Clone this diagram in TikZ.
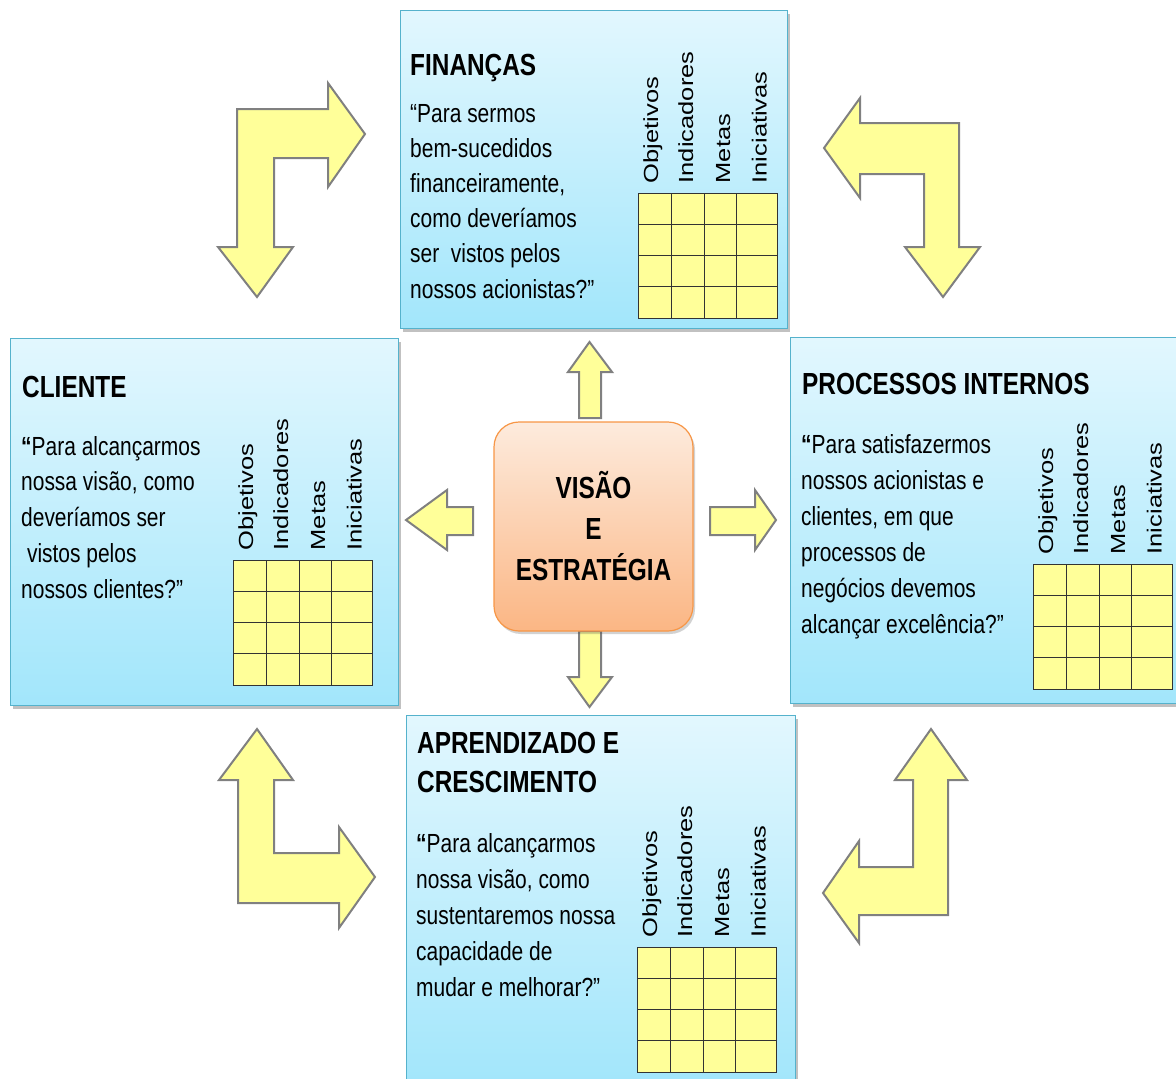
\documentclass[tikz,border=0pt]{standalone}
\usepackage{fontspec}
\setmainfont{Liberation Sans}
\newfontfamily\narrowfont[FakeStretch=0.8]{Liberation Sans}
\newfontfamily\tallfont[FakeStretch=1.25]{Liberation Sans}
\usetikzlibrary{shadows}

\definecolor{boxtop}{HTML}{E2F7FE}
\definecolor{boxbot}{HTML}{A2E6FB}
\definecolor{boxline}{HTML}{55B2CC}
\definecolor{pale}{HTML}{FFFF99}
\definecolor{arrowline}{HTML}{808080}
\definecolor{gridline}{HTML}{333333}
\definecolor{coretop}{HTML}{FDEBDD}
\definecolor{corebot}{HTML}{FBB684}
\definecolor{coreline}{HTML}{F79646}

\tikzset{
  panel/.style={draw=boxline, line width=1.2pt, top color=boxtop, bottom color=boxbot,
    anchor=north west, inner sep=0pt,
    drop shadow={shadow xshift=2pt, shadow yshift=-3pt, opacity=0.35, fill=black!70}},
  core/.style={draw=coreline, line width=1.2pt, top color=coretop, bottom color=corebot,
    rounded corners=25pt, minimum width=199pt, minimum height=209pt, align=center,
    font=\narrowfont\bfseries\fontsize{30.5}{41}\selectfont,
    drop shadow={shadow xshift=2pt, shadow yshift=-3pt, opacity=0.25, fill=black!70}},
  blockarrow/.style={fill=pale, draw=arrowline, line width=2pt, line join=miter},
  heading/.style={anchor=base west, inner sep=0pt,
    font=\narrowfont\bfseries\fontsize{30.5}{39}\selectfont},
  question/.style={anchor=base west, inner sep=0pt,
    font=\narrowfont\fontsize{26.2}{#1}\selectfont},
  question/.default=35.8,
  colhead/.style={rotate=90, anchor=base west, inner sep=0pt,
    font=\tallfont\fontsize{20.4}{24}\selectfont},
  measures/.pic={
    \path[fill=pale] (0,0) rectangle (139,125);
    \draw[gridline, line width=0.8pt]
      (33,0) -- (33,125) (66,0) -- (66,125) (98.5,0) -- (98.5,125)
      (0,31.25) -- (139,31.25) (0,62.5) -- (139,62.5) (0,93.75) -- (139,93.75);
    \draw[gridline, line width=1pt] (0,0) rectangle (139,125);
    \node[colhead] (-obj) at (20,-9.5) {Objetivos};
    \node[colhead] (-ind) at (55,-9.5) {Indicadores};
    \node[colhead] (-met) at (92,-9.5) {Metas};
    \node[colhead] (-ini) at (128.5,-9.5) {Iniciativas};
  }
}

\begin{document}
\begin{tikzpicture}[x=1pt,y=-1pt]
\useasboundingbox (0,0) rectangle (1176,1079);

% ---------- bent arrows between the perspectives ----------
\path[blockarrow] (237,109) -- (328,109) -- (328,83) -- (365,134) -- (328,187)
  -- (328,158) -- (274,158) -- (274,247) -- (293,247) -- (257,297) -- (218,247)
  -- (237,247) -- cycle;
\path[blockarrow] (959,123) -- (860,123) -- (860,98) -- (824,148) -- (860,198)
  -- (860,174) -- (924,174) -- (924,247) -- (905,247) -- (943,297) -- (980,247)
  -- (959,247) -- cycle;
\path[blockarrow] (257,729) -- (293,780) -- (274,780) -- (274,853) -- (339,853)
  -- (339,827) -- (375,877) -- (339,928) -- (339,903) -- (238,903) -- (238,780)
  -- (219,780) -- cycle;
\path[blockarrow] (931,729) -- (967,780) -- (948,780) -- (948,915) -- (859,915)
  -- (859,943) -- (823,893) -- (859,841) -- (859,867) -- (913,867) -- (913,780)
  -- (895,780) -- cycle;

% ---------- straight arrows out of the centre ----------
\path[blockarrow] (579,418) -- (579,372) -- (568,372) -- (589.5,342) -- (612,372)
  -- (601,372) -- (601,418) -- cycle;
\path[blockarrow] (579,631) -- (579,677) -- (568,677) -- (589.5,707) -- (612,677)
  -- (601,677) -- (601,631) -- cycle;
\path[blockarrow] (710,507) -- (755,507) -- (755,490) -- (776,520) -- (755,550)
  -- (755,535) -- (710,535) -- cycle;
\path[blockarrow] (473,507) -- (447,507) -- (447,490) -- (406,520) -- (447,550)
  -- (447,535) -- (473,535) -- cycle;

% ---------- perspective panels ----------
\node[panel, minimum width=387pt, minimum height=318pt] (fin) at (400,10) {};
\node[panel, minimum width=388pt, minimum height=367pt] (cli) at (10,338) {};
\node[panel, minimum width=395pt, minimum height=366pt] (proc) at (790,337) {};
\node[panel, minimum width=389pt, minimum height=370pt] (apr) at (406,715) {};

% ---------- centre ----------
\node[core] (core) at (593.5,526.5) {VISÃO\\E\\ESTRATÉGIA};

% ---------- Finanças ----------
\node[heading] (fin-title) at (410,75) {FINANÇAS};
\node[question=35.2] (fin-text) at (410,122) {\parbox[t]{230pt}{\raggedright
  “Para sermos\\bem-sucedidos\\financeiramente,\\como deveríamos\\ser\ \ vistos pelos\\nossos acionistas?”}};
\pic (fingrid) at (638,193) {measures};

% ---------- Cliente ----------
\node[heading] (cli-title) at (22,397) {CLIENTE};
\node[question] (cli-text) at (21,455) {\parbox[t]{220pt}{\raggedright
  {\bfseries “}Para alcançarmos\\nossa visão,\ como\\deveríamos ser\\\ vistos pelos\\nossos clientes?”}};
\pic (cligrid) at (233,560) {measures};

% ---------- Processos internos ----------
\node[heading] (proc-title) at (802,394) {PROCESSOS INTERNOS};
\node[question=36] (proc-text) at (801,453) {\parbox[t]{230pt}{\raggedright
  {\bfseries “}Para satisfazermos\\nossos\ acionistas\ e\\clientes,\ em que\\processos\ de\\negócios\ devemos\\alcançar\ excelência?”}};
\pic (procgrid) at (1033,564) {measures};

% ---------- Aprendizado e crescimento ----------
\node[heading] (apr-title) at (417,753) {\parbox[t]{300pt}{\raggedright APRENDIZADO E\\CRESCIMENTO}};
\node[question=36.2] (apr-text) at (416,852) {\parbox[t]{230pt}{\raggedright
  {\bfseries “}Para alcançarmos\\nossa visão,\ como\\sustentaremos\ nossa\\capacidade\ de\\mudar\ e melhorar?”}};
\pic (aprgrid) at (637,947) {measures};

\end{tikzpicture}
\end{document}
